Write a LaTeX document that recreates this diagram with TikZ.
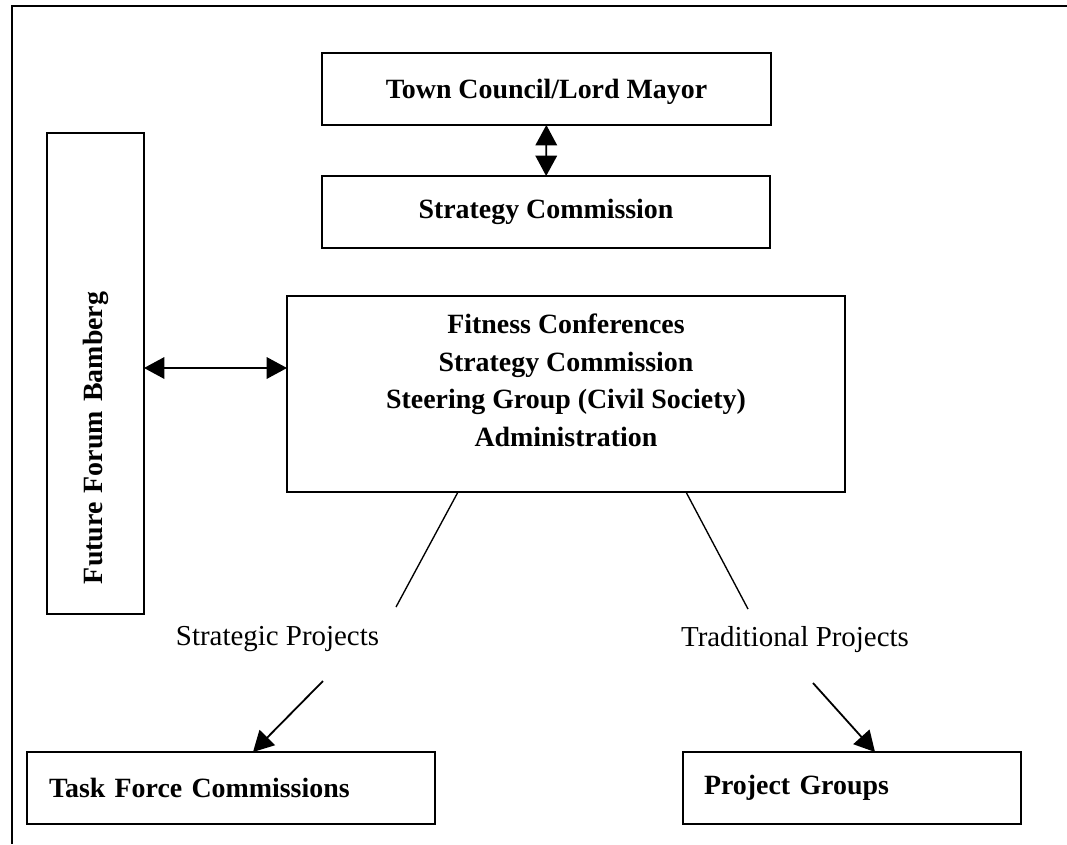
\documentclass[tikz,border=0pt]{standalone}
\usepackage{fontspec}
\setmainfont{Liberation Serif}
\usetikzlibrary{arrows.meta}

\newcommand{\pxu}{0.441pt}
\tikzset{
	box/.style={draw, line width=0.8pt, inner sep=0pt, outer sep=0pt, font=\fontsize{12.3}{16.5}\selectfont\bfseries},
	flow/.style={line width=0.8pt},
	headed/.style={flow, -{Triangle[length=9pt,width=9.5pt]}},
	twohead/.style={flow, {Triangle[length=9pt,width=9.5pt]}-{Triangle[length=9pt,width=9.5pt]}},
	branch/.style={font=\fontsize{12.75}{15}\selectfont, anchor=base, inner sep=0pt},
}

\begin{document}
\begin{tikzpicture}[x=\pxu, y=-\pxu]
\useasboundingbox (0,0) rectangle (1067,844);
\draw[line width=0.9pt] (1067,6)--(12,6)--(12,844);

% boxes
\node[box, minimum width=449*\pxu, minimum height=72*\pxu, text depth=0pt] (council) at (546.5,89) {Town Council/Lord Mayor};
\node[box, minimum width=448*\pxu, minimum height=72*\pxu] (strat) at (546,212) {Strategy Commission};
\node[box, rotate=90, minimum height=97*\pxu, text width=421*\pxu, inner xsep=30*\pxu, align=left] (forum) at (95.5,373.5) {Future Forum Bamberg};
\node[box, minimum width=558*\pxu, minimum height=196*\pxu, align=center, text depth=12.3pt] (hub) at (566,394) {Fitness Conferences\\Strategy Commission\\Steering Group (Civil Society)\\Administration};
\node[box, text width=364*\pxu, inner xsep=22*\pxu, minimum height=72*\pxu, align=left] (task) at (231,788) {Task Force Commissions};
\node[box, text width=296*\pxu, inner xsep=21*\pxu, minimum height=72*\pxu, align=left] (groups) at (852,788) {Project Groups};

\node[branch] (sp) at (277.5,645) {Strategic Projects};
\node[branch] (tp) at (795,646) {Traditional Projects};

% free ends of the branches
\coordinate (fa) at (0,368);
\coordinate (sp-top) at (458,0);
\coordinate (sp-end) at (396,607);
\coordinate (tp-top) at (686,0);
\coordinate (tp-end) at (748,609);
\coordinate (sp-from) at (323,681);
\coordinate (sp-tip) at (253,0);
\coordinate (tp-from) at (813,683);
\coordinate (tp-tip) at (875,0);

\draw[twohead] (council)--(strat);
\draw[twohead] (forum.south |- fa)--(hub.west |- fa);
\draw[flow, line width=0.6pt] (hub.south -| sp-top)--(sp-end);
\draw[flow, line width=0.6pt] (hub.south -| tp-top)--(tp-end);
\draw[headed] (sp-from)--(task.north -| sp-tip);
\draw[headed] (tp-from)--(groups.north -| tp-tip);

\end{tikzpicture}
\end{document}
